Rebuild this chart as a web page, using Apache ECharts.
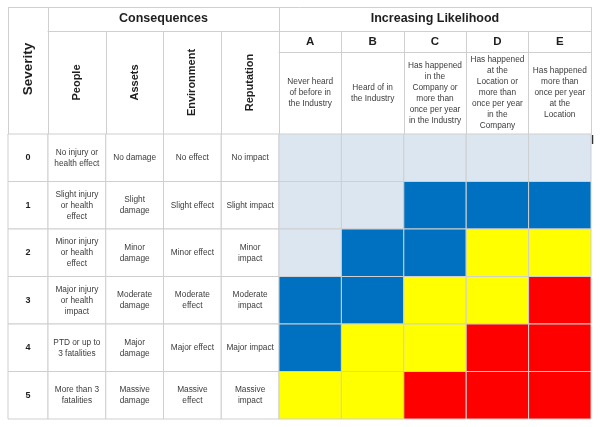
<!DOCTYPE html>
<html>
<head>
<meta charset="utf-8">
<script src="https://cdn.jsdelivr.net/npm/echarts@6/dist/echarts.min.js"></script>
<style>
  html, body { margin: 0; padding: 0; background: #fff; }
  #chart { width: 600px; height: 427px; }
</style>
</head>
<body>
<div id="chart"></div>
<script>
// table content
const severities = ['0', '1', '2', '3', '4', '5']
const consequenceCols = ['People', 'Assets', 'Environment', 'Reputation']
const people = ['No injury or\nhealth effect', 'Slight injury\nor health\neffect', 'Minor injury\nor health\neffect', 'Major injury\nor health\nimpact', 'PTD or up to\n3 fatalities', 'More than 3\nfatalities']
const assets = ['No damage', 'Slight\ndamage', 'Minor\ndamage', 'Moderate\ndamage', 'Major\ndamage', 'Massive\ndamage']
const environment = ['No effect', 'Slight effect', 'Minor effect', 'Moderate\neffect', 'Major effect', 'Massive\neffect']
const reputation = ['No impact', 'Slight impact', 'Minor\nimpact', 'Moderate\nimpact', 'Major impact', 'Massive\nimpact']
const likelihood = ['A', 'B', 'C', 'D', 'E']
const likelihoodDesc = [
  'Never heard\nof before in\nthe Industry',
  'Heard of in\nthe Industry',
  'Has happened\nin the\nCompany or\nmore than\nonce per year\nin the Industry',
  'Has happened\nat the\nLocation or\nmore than\nonce per year\nin the\nCompany',
  'Has happened\nmore than\nonce per year\nat the\nLocation'
]
// risk level per severity row (0..5) and likelihood column (A..E)
const riskLevels = [
  [0, 0, 0, 0, 0],
  [0, 0, 1, 1, 1],
  [0, 1, 1, 2, 2],
  [1, 1, 2, 2, 3],
  [1, 2, 2, 3, 3],
  [2, 2, 3, 3, 3]
]

// styles / layout
const riskColors = ['#dce6f1', '#0070c0', '#ffff00', '#ff0000']
const lineColor = '#cfcfcf'
const font = 'Liberation Sans'
const headColor = '#1e1e1e'
const bodyColor = '#3c3c3c'
const tableTop = 7, headBottom = 134, tableBottom = 419
const xSev = 8, xCons = 48, xRisk = 279, xRight = 591
const rowLetters = 52, rowTitle = 31

const consText = [people, assets, environment, reputation]

const sevData = severities.map((s, i) => [0, i])
const consData = []
consText.forEach((col, c) => col.forEach((t, r) => consData.push([c, r])))
const riskData = []
riskLevels.forEach((row, r) => row.forEach((lv, c) => riskData.push([c, r, lv])))

const cellRect = (c, s, fill) => ({
  type: 'rect',
  shape: { x: c[0] - s[0] / 2, y: c[1] - s[1] / 2, width: s[0], height: s[1] },
  style: { fill: fill, stroke: lineColor, lineWidth: 1 }
})

const hidden = { show: false }
const baseX = {
  type: 'category',
  position: 'top',
  axisLine: { show: true, lineStyle: { color: lineColor } },
  axisTick: { show: true, interval: 0, lineStyle: { color: lineColor } },
  splitLine: hidden
}
const baseY = { type: 'category', data: severities, inverse: true, show: false }

const chart = echarts.init(document.getElementById('chart'))
chart.setOption({
  backgroundColor: '#fff',
  animation: false,
  grid: [
    { left: xSev, top: headBottom, width: xCons - xSev, height: tableBottom - headBottom },
    { left: xCons, top: headBottom, width: xRisk - xCons, height: tableBottom - headBottom },
    { left: xRisk, top: headBottom, width: xRight - xRisk, height: tableBottom - headBottom }
  ],
  xAxis: [
    {
      ...baseX, gridIndex: 0, data: ['Severity'],
      axisTick: { ...baseX.axisTick, length: headBottom - tableTop },
      axisLabel: { interval: 0, rotate: -90, align: 'center', verticalAlign: 'middle', margin: 65, fontFamily: font, fontWeight: 'bold', fontSize: 13.5, color: headColor }
    },
    {
      ...baseX, gridIndex: 1, data: consequenceCols,
      axisTick: { ...baseX.axisTick, length: headBottom - rowTitle },
      axisLabel: { interval: 0, rotate: -90, align: 'center', verticalAlign: 'middle', margin: (headBottom - rowTitle) / 2, fontFamily: font, fontWeight: 'bold', fontSize: 11, color: headColor }
    },
    {
      ...baseX, gridIndex: 1, data: ['Consequences'], offset: headBottom - rowTitle,
      axisTick: { ...baseX.axisTick, length: rowTitle - tableTop },
      axisLabel: { interval: 0, align: 'center', verticalAlign: 'middle', margin: (rowTitle - tableTop) / 2, fontFamily: font, fontWeight: 'bold', fontSize: 12.5, color: headColor }
    },
    {
      ...baseX, gridIndex: 2, data: likelihood,
      axisTick: { ...baseX.axisTick, length: headBottom - rowLetters },
      axisLabel: {
        interval: 0, align: 'center', verticalAlign: 'middle', margin: (headBottom - rowLetters) / 2,
        formatter: (v, i) => likelihoodDesc[i],
        fontFamily: font, fontSize: 8.3, lineHeight: 11, color: bodyColor
      }
    },
    {
      ...baseX, gridIndex: 2, data: likelihood, offset: headBottom - rowLetters,
      axisTick: { ...baseX.axisTick, length: rowLetters - rowTitle },
      axisLabel: { interval: 0, align: 'center', verticalAlign: 'middle', margin: (rowLetters - rowTitle) / 2, fontFamily: font, fontWeight: 'bold', fontSize: 11.5, color: headColor }
    },
    {
      ...baseX, gridIndex: 2, data: ['Increasing Likelihood'], offset: headBottom - rowTitle,
      axisTick: { ...baseX.axisTick, length: rowTitle - tableTop },
      axisLabel: { interval: 0, align: 'center', verticalAlign: 'middle', margin: (rowTitle - tableTop) / 2, fontFamily: font, fontWeight: 'bold', fontSize: 12.5, color: headColor }
    }
  ],
  yAxis: [
    { ...baseY, gridIndex: 0 },
    { ...baseY, gridIndex: 1 },
    { ...baseY, gridIndex: 2 }
  ],
  series: [
    {
      type: 'custom', xAxisIndex: 0, yAxisIndex: 0, data: sevData,
      renderItem: (params, api) => {
        const c = api.coord([api.value(0), api.value(1)])
        const s = api.size([1, 1])
        return {
          type: 'group',
          children: [
            cellRect(c, s, '#fff'),
            { type: 'text', x: c[0], y: c[1], style: { text: severities[api.value(1)], align: 'center', verticalAlign: 'middle', fontFamily: font, fontWeight: 'bold', fontSize: 9, fill: headColor } }
          ]
        }
      }
    },
    {
      type: 'custom', xAxisIndex: 1, yAxisIndex: 1, data: consData,
      renderItem: (params, api) => {
        const c = api.coord([api.value(0), api.value(1)])
        const s = api.size([1, 1])
        return {
          type: 'group',
          children: [
            cellRect(c, s, '#fff'),
            { type: 'text', x: c[0], y: c[1], style: { text: consText[api.value(0)][api.value(1)], align: 'center', verticalAlign: 'middle', fontFamily: font, fontSize: 8.3, lineHeight: 11, fill: bodyColor } }
          ]
        }
      }
    },
    {
      type: 'custom', xAxisIndex: 3, yAxisIndex: 2, data: riskData,
      renderItem: (params, api) => {
        const c = api.coord([api.value(0), api.value(1)])
        const s = api.size([1, 1])
        return cellRect(c, s, riskColors[api.value(2)])
      }
    }
  ],
  graphic: [
    { type: 'line', shape: { x1: xSev, y1: tableTop + 0.5, x2: xRight, y2: tableTop + 0.5 }, style: { stroke: lineColor, lineWidth: 1 } },
    { type: 'line', shape: { x1: xRight + 1.5, y1: headBottom + 1, x2: xRight + 1.5, y2: headBottom + 10 }, style: { stroke: '#333', lineWidth: 1.5 } }
  ]
})
</script>
</body>
</html>
